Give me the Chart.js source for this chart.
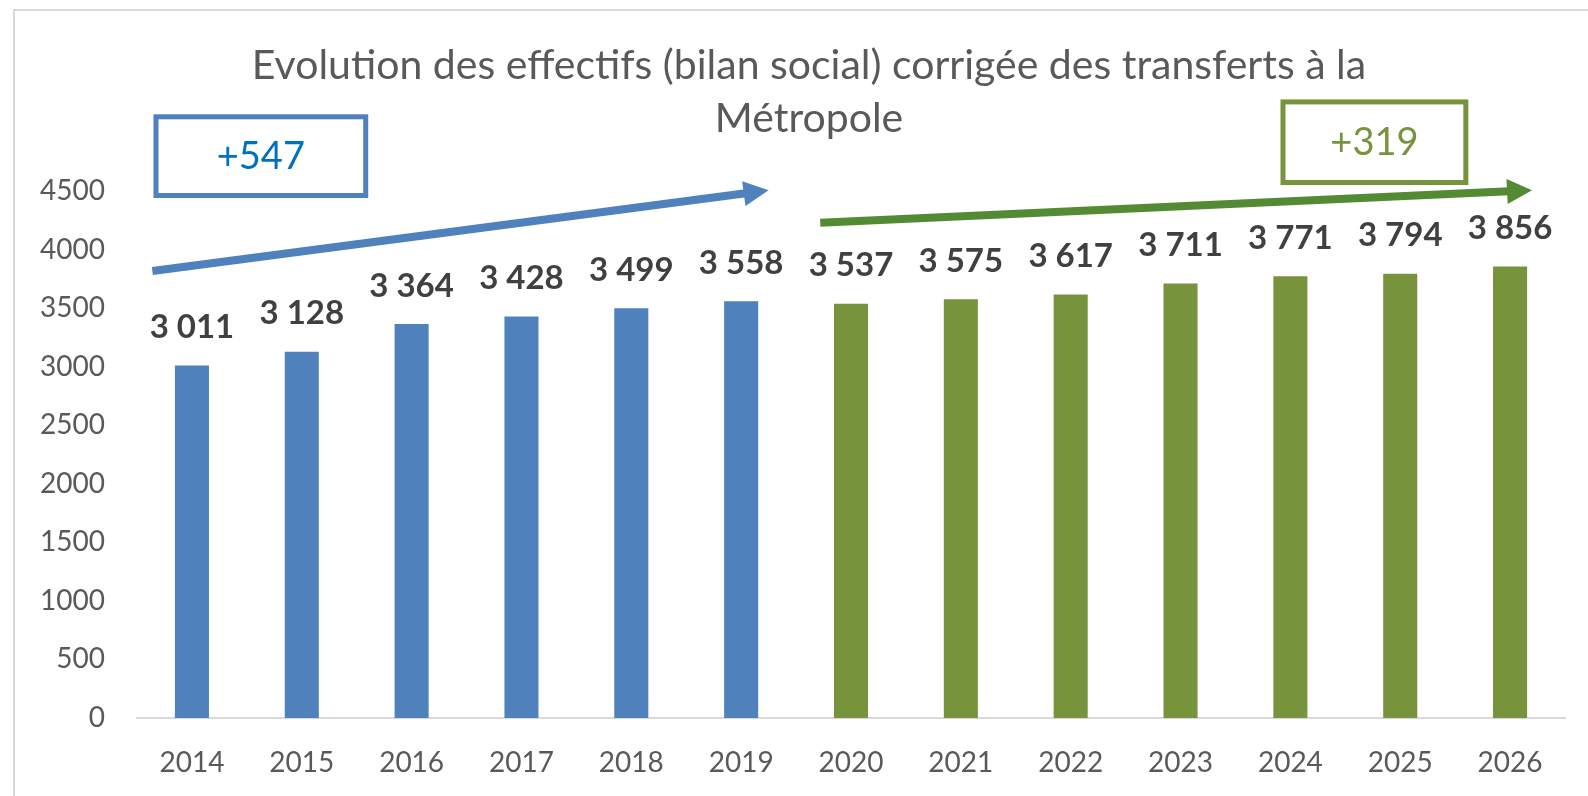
<!DOCTYPE html>
<html lang="fr">
<head>
<meta charset="utf-8">
<title>Evolution des effectifs</title>
<script src="https://cdn.jsdelivr.net/npm/chart.js@4.4.1/dist/chart.umd.min.js"></script>
<style>
  html, body { margin: 0; padding: 0; background: #ffffff; }
  #wrap { width: 1588px; height: 796px; }
</style>
</head>
<body>
<div id="wrap"><canvas id="c" width="1588" height="796"></canvas></div>
<script>
// ---- Data ----
const annees = ['2014','2015','2016','2017','2018','2019','2020','2021','2022','2023','2024','2025','2026'];
const effectifs = [3011, 3128, 3364, 3428, 3499, 3558, 3537, 3575, 3617, 3711, 3771, 3794, 3856];
const periodes = ['realise','realise','realise','realise','realise','realise',
                  'prevision','prevision','prevision','prevision','prevision','prevision','prevision'];
const titre = ['Evolution des effectifs (bilan social) corrigée des transferts à la', 'Métropole'];
const ticksY = [0, 500, 1000, 1500, 2000, 2500, 3000, 3500, 4000, 4500];

// annotations (in data units: category index, value)
const variationsTextes = ['+547', '+319'];
const encadreIdx = [[-0.35, 1.605], [9.91, 11.62]];
const encadreVal = [[5155, 4440], [5282, 4551]];
const flecheIdx = [[-0.36, 5.25], [5.72, 12.2]];
const flecheVal = [[3817, 4506], [4228, 4506]];

// ---- Styles ----
const couleurs = { realise: '#4F81BD', prevision: '#77933C' };
const couleursFleche = ['#4F81BD', '#538A33'];
const couleursBord = ['#4F81BD', '#77933C'];
const couleursTexte = ['#0070C0', '#77933C'];
const FONT = 'Lato, "Open Sans", sans-serif';

function fmt(v) { return String(v).replace(/\B(?=(\d{3})+(?!\d))/g, ' '); }

const cadrePlugin = {
  id: 'cadre',
  afterLayout(chart) {
    // let the y tick labels use the free space on the left (avoid clipping)
    chart.scales.y.left = 16;
  },
  beforeDraw(chart) {
    const ctx = chart.ctx;
    ctx.save();
    ctx.fillStyle = '#ffffff';
    ctx.fillRect(0, 0, chart.width, chart.height);
    ctx.strokeStyle = '#D9D9D9';
    ctx.lineWidth = 2;
    ctx.beginPath();
    ctx.moveTo(14, chart.height);
    ctx.lineTo(14, 10);
    ctx.lineTo(chart.width, 10);
    ctx.stroke();
    ctx.restore();
  }
};

const etiquettesPlugin = {
  id: 'etiquettes',
  afterDatasetsDraw(chart) {
    const ctx = chart.ctx;
    const meta = chart.getDatasetMeta(0);
    ctx.save();
    ctx.font = 'bold 33px ' + FONT;
    ctx.fillStyle = '#404040';
    ctx.textAlign = 'center';
    ctx.textBaseline = 'middle';
    meta.data.forEach((bar, i) => {
      ctx.fillText(fmt(effectifs[i]), bar.x, bar.y - 38);
    });
    ctx.restore();
  }
};

const annotationsPlugin = {
  id: 'annotations',
  afterDraw(chart) {
    const ctx = chart.ctx;
    const xs = chart.scales.x, ys = chart.scales.y;
    ctx.save();
    // arrows
    flecheIdx.forEach((ix, k) => {
      const x0 = xs.getPixelForValue(ix[0]), y0 = ys.getPixelForValue(flecheVal[k][0]);
      const x1 = xs.getPixelForValue(ix[1]), y1 = ys.getPixelForValue(flecheVal[k][1]);
      const ang = Math.atan2(y1 - y0, x1 - x0);
      const headL = 25, headW = 12.5;
      const bx = x1 - headL * Math.cos(ang), by = y1 - headL * Math.sin(ang);
      ctx.strokeStyle = couleursFleche[k];
      ctx.fillStyle = couleursFleche[k];
      ctx.lineWidth = 8;
      ctx.lineCap = 'butt';
      ctx.beginPath();
      ctx.moveTo(x0, y0);
      ctx.lineTo(bx + 2 * Math.cos(ang), by + 2 * Math.sin(ang));
      ctx.stroke();
      ctx.beginPath();
      ctx.moveTo(x1, y1);
      ctx.lineTo(bx - headW * Math.sin(ang), by + headW * Math.cos(ang));
      ctx.lineTo(bx + headW * Math.sin(ang), by - headW * Math.cos(ang));
      ctx.closePath();
      ctx.fill();
    });
    // boxes
    encadreIdx.forEach((ix, k) => {
      const l = xs.getPixelForValue(ix[0]), r = xs.getPixelForValue(ix[1]);
      const t = ys.getPixelForValue(encadreVal[k][0]), b = ys.getPixelForValue(encadreVal[k][1]);
      const lw = 5;
      ctx.strokeStyle = couleursBord[k];
      ctx.lineWidth = lw;
      ctx.lineJoin = 'miter';
      ctx.strokeRect(l + lw / 2, t + lw / 2, r - l - lw, b - t - lw);
      ctx.font = '38px ' + FONT;
      ctx.fillStyle = couleursTexte[k];
      ctx.textAlign = 'center';
      ctx.textBaseline = 'middle';
      ctx.fillText(variationsTextes[k], (l + r) / 2, (t + b) / 2 + 1);
    });
    ctx.restore();
  }
};

new Chart(document.getElementById('c'), {
  type: 'bar',
  data: {
    labels: annees,
    datasets: [{
      label: 'Effectifs',
      data: effectifs,
      backgroundColor: periodes.map(p => couleurs[p]),
      borderWidth: 0,
      categoryPercentage: 1,
      barPercentage: 0.31
    }]
  },
  options: {
    responsive: false,
    animation: false,
    devicePixelRatio: 1,
    layout: { padding: { left: 53, right: 23, top: 0, bottom: 0 } },
    plugins: {
      legend: { display: false },
      tooltip: { enabled: false },
      title: {
        display: true,
        text: titre,
        color: '#595959',
        font: { family: FONT, size: 41, weight: 'normal', lineHeight: '53.5px' },
        padding: { top: 39, bottom: 45 }
      }
    },
    scales: {
      x: {
        grid: { display: false, drawTicks: false },
        border: { display: true, color: '#D9D9D9', width: 2 },
        ticks: { color: '#595959', font: { family: FONT, size: 28 }, padding: 28, maxRotation: 0 },
        afterFit(s) { s.height = 78; }
      },
      y: {
        min: 0,
        max: 4500,
        grid: { display: false, drawTicks: false },
        border: { display: false },
        afterBuildTicks(s) { s.ticks = ticksY.map(v => ({ value: v })); },
        ticks: { color: '#595959', font: { family: FONT, size: 28 }, padding: 32, callback: v => String(v) },
        afterFit(s) { s.width = 84; }
      }
    }
  },
  plugins: [cadrePlugin, etiquettesPlugin, annotationsPlugin]
});
</script>
</body>
</html>
